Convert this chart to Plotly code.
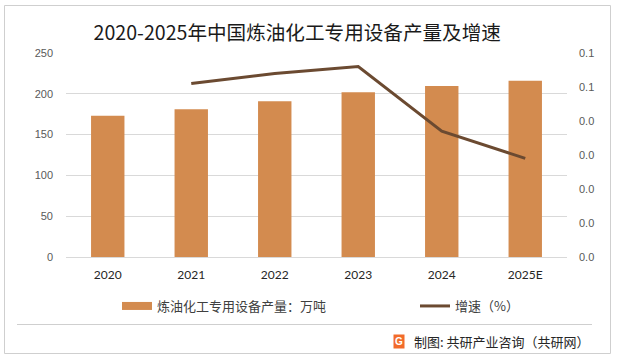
import plotly.graph_objects as go

categories = ["2020", "2021", "2022", "2023", "2024", "2025E"]
production = [173, 181, 191, 202, 209.5, 216]
growth_cats = ["2021", "2022", "2023", "2024", "2025E"]
growth = [0.051, 0.054, 0.056, 0.037, 0.029]

title_text = "2020-2025年中国炼油化工专用设备产量及增速"
bar_name = "炼油化工专用设备产量：万吨"
line_name = "增速（%）"
source_text = "制图: 共研产业咨询（共研网）"

CJK = "Noto Sans CJK SC"
BAR = "#D38B4F"
LINE = "#6B4A31"

L, T, PW, PH = 66, 53, 501, 204


def px(x):
    return (x - L) / PW


def py(y):
    return (T + PH - y) / PH


fig = go.Figure()
fig.add_trace(go.Bar(x=categories, y=production, name=bar_name,
                     marker=dict(color=BAR, line=dict(width=0)), width=0.4,
                     yaxis="y", showlegend=False))
# legend swatch for the bar series (wide flat rectangle as in the original)
fig.add_trace(go.Scatter(x=[None], y=[None], name=bar_name, mode="lines",
                         line=dict(color=BAR, width=8), yaxis="y",
                         legend="legend", showlegend=True))
fig.add_trace(go.Scatter(x=growth_cats, y=growth, name=line_name, mode="lines",
                         line=dict(color=LINE, width=3), yaxis="y2", legend="legend2",
                         showlegend=True))

fig.update_layout(
    width=618, height=361,
    margin=dict(l=L, r=618 - L - PW, t=T, b=361 - T - PH),
    paper_bgcolor="white", plot_bgcolor="white",
    showlegend=True,
    font=dict(family=CJK, color="#404040"),
    title=dict(text=title_text, x=0.481, xanchor="center", y=0.908, yanchor="middle",
               font=dict(family=CJK, size=19.6, color="#1A1A1A")),
    xaxis=dict(type="category", showgrid=False, showline=False, ticks="",
               tickfont=dict(family="Lato", size=12, color="#262626"),
               ticklabelstandoff=9),
    yaxis=dict(range=[0, 250], dtick=50, showgrid=True, gridcolor="#D9D9D9", gridwidth=1,
               zeroline=True, zerolinecolor="#D9D9D9", zerolinewidth=1,
               ticks="", tickfont=dict(family="Liberation Sans", size=11, color="#595959"),
               ticklabelstandoff=12),
    yaxis2=dict(range=[0, 0.06], dtick=0.01, tickformat=".1f", overlaying="y", side="right",
                showgrid=False, zeroline=False, ticks="",
                tickfont=dict(family="Liberation Sans", size=11, color="#595959"),
                ticklabelstandoff=11),
    legend=dict(visible=True, orientation="h", x=px(117), xanchor="left", y=py(306),
                yanchor="middle", font=dict(family=CJK, size=13, color="#404040")),
    legend2=dict(visible=True, orientation="h", x=px(415), xanchor="left", y=py(306),
                 yanchor="middle", font=dict(family=CJK, size=13, color="#404040")),
)

# outer border and separator
fig.add_shape(type="rect", xref="paper", yref="paper", x0=px(4.5), x1=px(610.5),
              y0=py(353.5), y1=py(5.5), line=dict(color="#CFCFCF", width=1), layer="below")
fig.add_shape(type="line", xref="paper", yref="paper", x0=px(17), x1=px(592),
              y0=py(324.5), y1=py(324.5), line=dict(color="#CFCFCF", width=1), layer="below")

# source note
fig.add_annotation(text=source_text, xref="paper", yref="paper", x=px(592), xanchor="right",
                   y=py(341), yanchor="middle", showarrow=False,
                   font=dict(family=CJK, size=13, color="#262626"))
fig.add_annotation(text="<b>G</b>", xref="paper", yref="paper", x=px(399), xanchor="center",
                   y=py(341), yanchor="middle", showarrow=False, bgcolor="#F26B2A",
                   borderpad=1, font=dict(family="Liberation Sans", size=10, color="white"))

fig.write_html("out.html", config={"displayModeBar": False},
               post_script="document.body.style.margin='0';document.body.style.overflow='hidden';")
